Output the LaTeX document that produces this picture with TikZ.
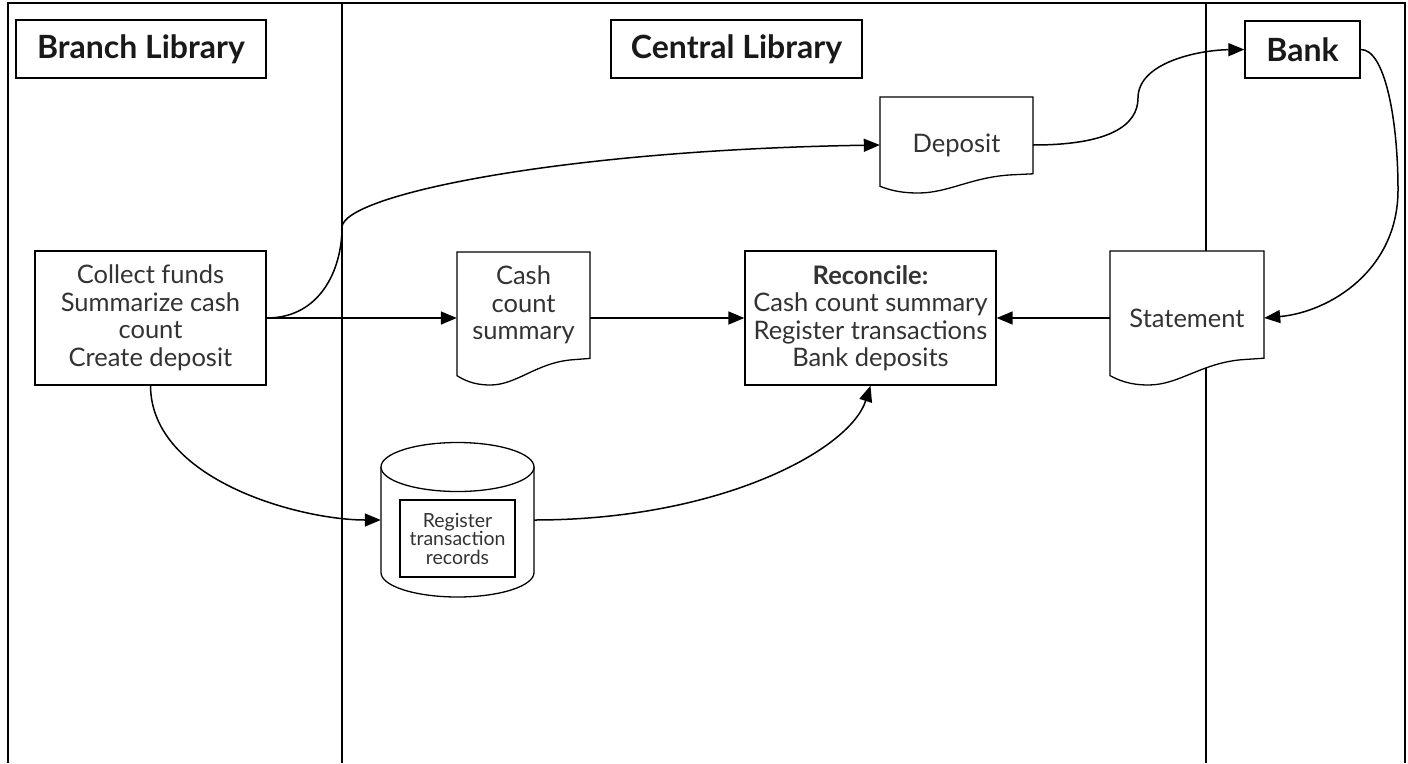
\documentclass[tikz,border=0pt]{standalone}
\usepackage{fontspec}
\setmainfont{Lato}
\usetikzlibrary{arrows.meta,calc}
\pgfdeclarelayer{bg}
\pgfdeclarelayer{shapes}
\pgfsetlayers{bg,shapes,main}
\definecolor{ink}{HTML}{333333}
\newcommand\docoutline[4]{%
  \draw[fill=white] (#1,#2) -- (#3,#2) -- (#3,{#2+0.8*(#4-#2)})
   -- ({#1+0.87*(#3-#1)},{#2+0.81*(#4-#2)})
   .. controls ({#1+0.6*(#3-#1)},{#2+0.83*(#4-#2)}) and ({#1+0.45*(#3-#1)},#4) .. ({#1+0.25*(#3-#1)},#4)
   .. controls ({#1+0.12*(#3-#1)},#4) and ({#1+0.05*(#3-#1)},{#2+0.96*(#4-#2)}) .. (#1,{#2+0.93*(#4-#2)}) -- cycle;}
\begin{document}
\begin{tikzpicture}[x=1pt,y=-1pt,line width=1.3pt,
  txt/.style={text=ink,font=\fontsize{25.5}{27.5}\selectfont,align=center,inner sep=0pt},
  small/.style={text=ink,font=\fontsize{19.5}{18.5}\selectfont,align=center,inner sep=0pt},
  head/.style={draw,fill=white,line width=1.3pt,font=\fontsize{32}{36}\selectfont\bfseries,text=black!90,minimum height=58pt,inner sep=0pt},
  proc/.style={draw,fill=white,line width=1.3pt,txt},
  conn/.style={line width=1.5pt,-{Triangle[length=16pt,width=13pt]}},
  lyr/.style={line width=1.3pt}]
\useasboundingbox (0,0) rectangle (1408,763);
\begin{pgfonlayer}{bg}
\begin{scope}[lyr]
\draw (8,763) -- (8,3) -- (1405,3) -- (1405,763);
\draw (342,3) -- (342,763);
\draw (1206,3) -- (1206,763);
\end{scope}
\end{pgfonlayer}
% lane headers
\node[head,minimum width=250pt] (branch) at (141,49) {Branch Library};
\node[head,minimum width=251pt] (central) at (736.5,49) {Central Library};
\node[head,minimum width=115pt,minimum height=57pt] (bank) at (1302.5,49.5) {Bank};
% processes
\node[proc,minimum width=231pt,minimum height=134pt] (collect) at (150.5,318)
  {Collect funds\\Summarize cash\\count\\Create deposit};
\node[proc,minimum width=251pt,minimum height=134pt] (rec) at (870.5,318)
  {\textbf{Reconcile:}\\Cash count summary\\Register transactions\\Bank deposits};
% documents and store outlines
\begin{pgfonlayer}{shapes}
\begin{scope}[lyr]
\docoutline{457}{252}{590}{385}
\docoutline{880}{97}{1033}{193}
\docoutline{1110}{251}{1264}{385}
\draw[fill=white] (381,467) -- (381,572.5)
  arc[start angle=180,end angle=360,x radius=76.5pt,y radius=24.5pt] -- (534,467);
\draw[fill=white] (457.5,467) ellipse[x radius=76.5pt,y radius=24.5pt];
\end{scope}
\end{pgfonlayer}
\node[txt,minimum width=133pt,minimum height=106pt] (cash) at (523.5,305) {Cash\\count\\summary};
\node[txt,minimum width=153pt,minimum height=96pt] (dep) at (956.5,145) {Deposit};
\node[txt,minimum width=154pt,minimum height=134pt] (stmt) at (1187,318) {Statement};
\node[minimum width=153pt,minimum height=154pt,inner sep=0pt] (db) at (457.5,520) {};
\node[small,draw,line width=1.3pt,fill=white,minimum width=115pt,minimum height=77pt] (dbin) at (457.5,538.5)
  {Register\\transaction\\records};
% connectors
\draw[conn] (collect.east) -- (collect.east -| cash.west);
\draw[conn] (collect.east -| cash.east) -- (collect.east -| rec.west);
\draw[conn] (stmt.west) -- (rec.east);
\draw[conn] (collect.east) .. controls (320,318) and (342,270) .. (342,227)
  .. controls (344,195) and (560,150) .. (dep.west);
\draw[conn] (dep.east) .. controls (1110,145) and (1138,125) .. (1138,98)
  .. controls (1138,62) and (1200,50) .. (bank.west);
\draw[conn] (bank.east) .. controls (1385,49) and (1398,120) .. (1398,190)
  .. controls (1398,270) and (1330,312) .. (stmt.east);
\draw[conn] (collect.south) .. controls (151,480) and (300,520) .. (db.west);
\draw[conn] (db.east) .. controls (720,520) and (850,450) .. (rec.south);
\end{tikzpicture}
\end{document}
